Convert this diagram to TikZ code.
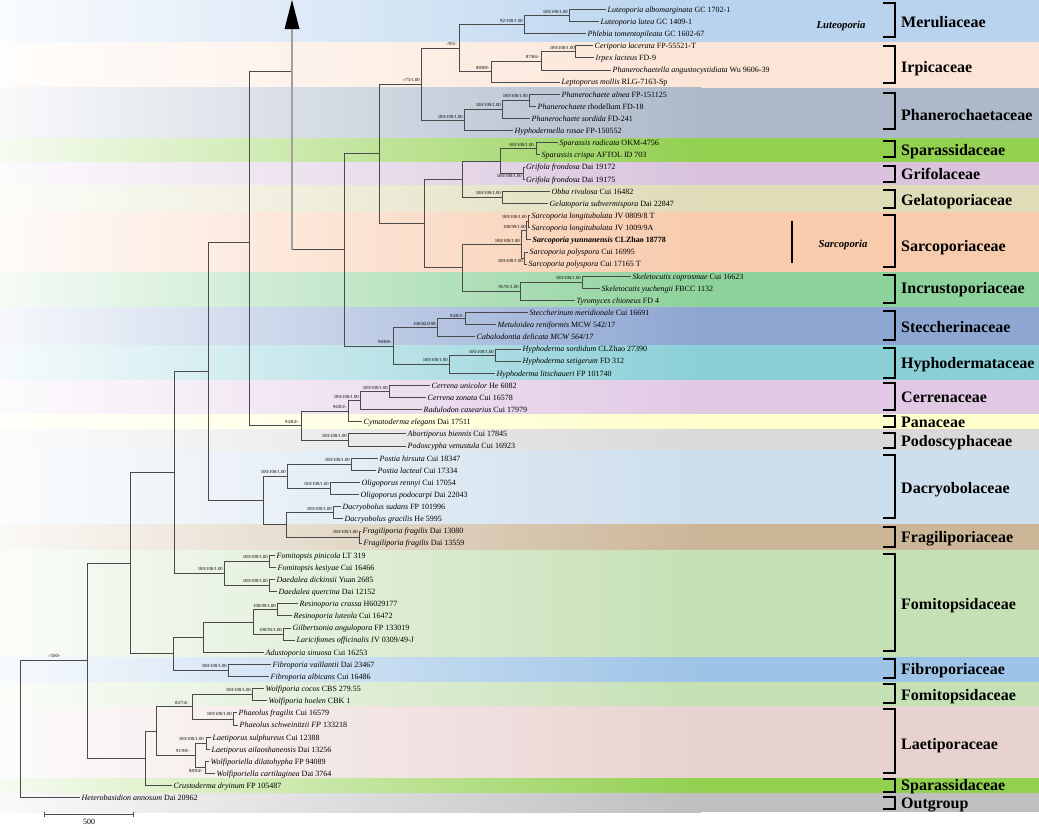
\documentclass[tikz,border=0pt]{standalone}
\usepackage{fontspec}
\setmainfont{Liberation Serif}
\definecolor{cMer}{HTML}{B9D3EE}
\definecolor{cIrp}{HTML}{FBE5D6}
\definecolor{cPha}{HTML}{ADB9CA}
\definecolor{cSpa}{HTML}{92D050}
\definecolor{cGri}{HTML}{D9C3DD}
\definecolor{cGel}{HTML}{DFDCB8}
\definecolor{cSar}{HTML}{F8CBAD}
\definecolor{cInc}{HTML}{8ED29B}
\definecolor{cSte}{HTML}{8EA6D2}
\definecolor{cHyp}{HTML}{8BCFD7}
\definecolor{cCer}{HTML}{E1C9E5}
\definecolor{cPan}{HTML}{FFFFCC}
\definecolor{cPod}{HTML}{D9D9D9}
\definecolor{cDac}{HTML}{CDDEEC}
\definecolor{cFra}{HTML}{CBB698}
\definecolor{cFom}{HTML}{C5E0B4}
\definecolor{cFib}{HTML}{9DC3E6}
\definecolor{cLae}{HTML}{E8D2D0}
\definecolor{cOut}{HTML}{BFBFBF}
\definecolor{treec}{HTML}{4A4A4A}
\definecolor{arrc}{HTML}{A0A0A0}
\begin{document}
\begin{tikzpicture}[x=1pt,y=-1pt,
  br/.style={draw=treec, line width=0.75pt},
  taxon/.style={anchor=base west, inner sep=0pt, font=\fontsize{8}{9}\selectfont},
  sup/.style={anchor=east, inner sep=0pt, font=\fontsize{4.7}{5}\selectfont},
  fam/.style={anchor=base west, inner sep=0pt, font=\fontsize{16}{18}\selectfont\bfseries},
  brk/.style={draw=black, line width=2.2pt},
  genus/.style={inner sep=0pt, font=\fontsize{10.7}{12}\selectfont\bfseries\itshape},
  arrline/.style={draw=arrc, line width=1.5pt}]
\useasboundingbox (0,0) rectangle (1039,828);
% ---------- coloured bands ----------
\foreach \a/\b/\c in {0/42/cMer,42/87.5/cIrp,87.5/138/cPha,138/162/cSpa,162/185/cGri,185/212/cGel,212/272/cSar,272/307/cInc,307/345/cSte,345/380/cHyp,380/414/cCer,414/429/cPan,429/450/cPod,450/524/cDac,524/550/cFra,550/657/cFom,657/682/cFib,682/706/cFom,706/778/cLae,778/793/cSpa,793/812/cOut}
{\shade[left color=\c!8!white,right color=\c] (0,\a) rectangle (701,\b);
 \fill[\c] (700,\a) rectangle (1039,\b);}
% ---------- leaves ----------
\foreach \i/\x/\t in {
0/606/{\textit{Luteoporia albomarginata} GC 1702-1},
1/599/{\textit{Luteoporia lutea} GC 1409-1},
2/586/{\textit{Phlebia tomentopileata} GC 1602-67},
3/593/{\textit{Ceriporia lacerata} FP-55521-T},
4/594/{\textit{Irpex lacteus} FD-9},
5/611/{\textit{Phanerochaetella angustocystidiata} Wu 9606-39},
6/560/{\textit{Leptoporus mollis} RLG-7163-Sp},
7/560/{\textit{Phanerochaete alnea} FP-151125},
8/536/{\textit{Phanerochaete} rhodellum FD-18},
9/530/{\textit{Phanerochaete sordida} FD-241},
10/513/{\textit{Hyphodermella rosae} FP-150552},
11/558/{\textit{Sparassis radicata} OKM-4756},
12/540/{\textit{Sparassis crispa} AFTOL ID 703},
13/524.5/{\textit{Grifola frondosa} Dai 19172},
14/524.5/{\textit{Grifola frondosa} Dai 19175},
15/550/{\textit{Obba rivulosa} Cui 16482},
16/548/{\textit{Gelatoporia subvermispora} Dai 22847},
17/530/{\textit{Sarcoporia longitubulata} JV 0809/8 T},
18/530/{\textit{Sarcoporia longitubulata} JV 1009/9A},
19/531/{\textbf{\textit{Sarcoporia yunnanensis} CLZhao 18778}},
20/528/{\textit{Sarcoporia polyspora} Cui 16995},
21/527/{\textit{Sarcoporia polyspora} Cui 17165 T},
22/631/{\textit{Skeletocutis coprosmae} Cui 16623},
23/600/{\textit{Skeletocutis yuchengii} FBCC 1132},
24/575/{\textit{Tyromyces chioneus} FD 4},
25/528/{\textit{Steccherinum meridionale} Cui 16691},
26/496/{\textit{Metuloidea reniformis} MCW 542/17},
27/475/{\textit{Cabalodontia delicata MCW 564/17}},
28/521/{\textit{Hyphoderma sordidum} CLZhao 27390},
29/521/{\textit{Hyphoderma setigerum} FD 312},
30/495/{\textit{Hyphoderma litschaueri} FP 101740},
31/430/{\textit{Cerrena unicolor} He 6082},
32/426/{\textit{Cerrena zonata} Cui 16578},
33/422/{\textit{Radulodon casearius} Cui 17979},
34/362/{\textit{Cymatoderma elegans} Dai 17511},
35/406/{\textit{Abortiporus biennis} Cui 17845},
36/406/{\textit{Podoscypha venustula} Cui 16923},
37/378/{\textit{Postia hirsuta} Cui 18347},
38/376/{\textit{Postia lacteal} Cui 17334},
39/360/{\textit{Oligoporus rennyi} Cui 17054},
40/359/{\textit{Oligoporus podocarpi} Dai 22043},
41/341/{\textit{Dacryobolus sudans} FP 101996},
42/343/{\textit{Dacryobolus gracilis} He 5995},
43/361/{\textit{Fragiliporia fragilis} Dai 13080},
44/362/{\textit{Fragiliporia fragilis} Dai 13559},
45/275/{\textit{Fomitopsis pinicola} LT 319},
46/276/{\textit{Fomitopsis kesiyae} Cui 16466},
47/275/{\textit{Daedalea dickinsii} Yuan 2685},
48/277/{\textit{Daedalea quercina} Dai 12152},
49/298/{\textit{Resinoporia crassa} H6029177},
50/292/{\textit{Resinoporia luteola} Cui 16472},
51/291/{\textit{Gilbertsonia angulopora} FP 133019},
52/295/{\textit{Laricifomes officinalis} JV 0309/49-J},
53/264/{\textit{Adustoporia sinuosa} Cui 16253},
54/271/{\textit{Fibroporia vaillantii} Dai 23467},
55/269/{\textit{Fibroporia albicans} Cui 16486},
56/264/{\textit{Wolfiporia cocos} CBS 279.55},
57/267/{\textit{Wolfiporia hoelen} CBK 1},
58/237/{\textit{Phaeolus fragilis} Cui 16579},
59/238/{\textit{Phaeolus schweinitzii FP} 133218},
60/211/{\textit{Laetiporus sulphureus} Cui 12388},
61/210/{\textit{Laetiporus ailaoshanensis} Dai 13256},
62/209/{\textit{Wolfiporiella dilatohypha} FP 94089},
63/215/{\textit{Wolfiporiella cartilaginea} Dai 3764},
64/172/{\textit{Crustoderma dryinum} FP 105487},
65/80/{\textit{Heterobasidion annosum} Dai 20962}}
{\coordinate (l\i) at (\x,{9.3+12.13*\i});
 \node[taxon] (t\i) at (\x+1.5,{9.3+12.13*\i+2.9}) {\t};}
% ---------- internal nodes ----------
\coordinate (nA1) at (569,15.35);
\coordinate (nA2) at (524,24.5);
\coordinate (nB1) at (575,51.75);
\coordinate (nB2) at (541,60.9);
\coordinate (nB3) at (491,71.5);
\coordinate (nAB) at (459,48);
\coordinate (nC1) at (529,100.25);
\coordinate (nC2) at (502,109.4);
\coordinate (nC3) at (464,120);
\coordinate (nT) at (421,84);
\coordinate (nD1) at (536,148.8);
\coordinate (nD2) at (523,173);
\coordinate (nD3) at (500,160.9);
\coordinate (nE) at (502,197.4);
\coordinate (nDE) at (462,179.1);
\coordinate (nS1) at (528,221.5);
\coordinate (nS2) at (526,230.7);
\coordinate (nS3) at (524,258);
\coordinate (nS) at (521,244.3);
\coordinate (nI1) at (582,282.2);
\coordinate (nI) at (520,291.3);
\coordinate (nSI) at (462,267.8);
\coordinate (nDESI) at (424,223.5);
\coordinate (nU) at (379,153.7);
\coordinate (nSt1) at (465,318.6);
\coordinate (nSt) at (437,327.7);
\coordinate (nH1) at (495,355);
\coordinate (nH) at (449,364.1);
\coordinate (nSH) at (393,345.9);
\coordinate (nV) at (344,249.8);
\coordinate (k1) at (292,71);
\coordinate (k2) at (292,249.8);
\coordinate (ab) at (292,29);
\coordinate (nW) at (249,242);
\coordinate (nCe1) at (389,391.4);
\coordinate (nCe2) at (360,400.5);
\coordinate (nCe3) at (348,411.1);
\coordinate (nPo) at (348,440);
\coordinate (nCP) at (301,425.5);
\coordinate (nDa1) at (351,464.2);
\coordinate (nDa2) at (330,488.5);
\coordinate (nDa3) at (287,476.3);
\coordinate (nDa4) at (333,512.7);
\coordinate (nFr) at (359,537);
\coordinate (nDa5) at (286,524.8);
\coordinate (nDa) at (263,500.6);
\coordinate (nX) at (208,371.3);
\coordinate (nF1) at (269,561.2);
\coordinate (nF2) at (269,585.5);
\coordinate (nF) at (224,573.3);
\coordinate (nY) at (174,472.3);
\coordinate (nR1) at (277,609.7);
\coordinate (nR2) at (283,634);
\coordinate (nR) at (253,621.9);
\coordinate (nR3) at (203,637);
\coordinate (nFb) at (228,670.4);
\coordinate (nZ) at (173,653.7);
\coordinate (nQ) at (130,563);
\coordinate (nL1) at (252,694.6);
\coordinate (nL2) at (233,719);
\coordinate (nL3) at (192,706.8);
\coordinate (nL4) at (206,743.2);
\coordinate (nL5) at (205,767.5);
\coordinate (nL6) at (195,755.3);
\coordinate (nL) at (156,731);
\coordinate (nLC) at (145,758.3);
\coordinate (nP) at (87,660.7);
\coordinate (root) at (20,729.2);
% ---------- branches ----------
\foreach \p/\c in {nA1/l0,nA1/l1,nA2/nA1,nA2/l2,nB1/l3,nB1/l4,nB2/nB1,nB2/l5,nB3/nB2,nB3/l6,
 nAB/nA2,nAB/nB3,nC1/l7,nC1/l8,nC2/nC1,nC2/l9,nC3/nC2,nC3/l10,nT/nAB,nT/nC3,
 nD1/l11,nD1/l12,nD2/l13,nD2/l14,nD3/nD1,nD3/nD2,nE/l15,nE/l16,nDE/nD3,nDE/nE,
 nS1/l17,nS1/l18,nS2/nS1,nS2/l19,nS3/l20,nS3/l21,nS/nS2,nS/nS3,nI1/l22,nI1/l23,nI/nI1,nI/l24,
 nSI/nS,nSI/nI,nDESI/nDE,nDESI/nSI,nU/nT,nU/nDESI,
 nSt1/l25,nSt1/l26,nSt/nSt1,nSt/l27,nH1/l28,nH1/l29,nH/nH1,nH/l30,nSH/nSt,nSH/nH,
 nV/nU,nV/nSH,k1/nV,nW/k1,nW/nCP,
 nCe1/l31,nCe1/l32,nCe2/nCe1,nCe2/l33,nCe3/nCe2,nCe3/l34,nPo/l35,nPo/l36,nCP/nCe3,nCP/nPo,
 nDa1/l37,nDa1/l38,nDa2/l39,nDa2/l40,nDa3/nDa1,nDa3/nDa2,nDa4/l41,nDa4/l42,nFr/l43,nFr/l44,
 nDa5/nDa4,nDa5/nFr,nDa/nDa3,nDa/nDa5,nX/nW,nX/nDa,
 nF1/l45,nF1/l46,nF2/l47,nF2/l48,nF/nF1,nF/nF2,nY/nX,nY/nF,
 nR1/l49,nR1/l50,nR2/l51,nR2/l52,nR/nR1,nR/nR2,nR3/nR,nR3/l53,nFb/l54,nFb/l55,nZ/nR3,nZ/nFb,
 nQ/nY,nQ/nZ,
 nL1/l56,nL1/l57,nL2/l58,nL2/l59,nL3/nL1,nL3/nL2,nL4/l60,nL4/l61,nL5/l62,nL5/l63,
 nL6/nL4,nL6/nL5,nL/nL3,nL/nL6,nLC/nL,nLC/l64,nP/nQ,nP/nLC,root/nP,root/l65}
{\draw[br] (\p) |- (\c);}
% ---------- arrow ----------
\draw[arrline] (k2) -- (ab);
\fill[black] (284.5,29) -- (299.5,29) -- (292,0) -- cycle;
% ---------- support values ----------
\node[sup] (s0) at (61,656) {-/100/-};
\node[sup] (s1) at (568,12) {100/100/1.00};
\node[sup] (s2) at (523,21) {92/100/1.00};
\node[sup] (s3) at (575,48) {100/100/1.00};
\node[sup] (s4) at (540,57) {87/86/-};
\node[sup] (s5) at (490,68) {88/88/-};
\node[sup] (s6) at (457,44) {-/95/-};
\node[sup] (s7) at (420,80) {-/73/1.00};
\node[sup] (s8) at (528,96) {100/100/1.00};
\node[sup] (s9) at (501,105) {100/100/1.00};
\node[sup] (s10) at (463,117) {100/100/1.00};
\node[sup] (s11) at (534,145) {100/100/1.00};
\node[sup] (s12) at (522,176) {100/100/1.00};
\node[sup] (s13) at (501,193) {100/100/1.00};
\node[sup] (s14) at (527,217) {100/100/1.00};
\node[sup] (s15) at (526,227) {100/99/1.00};
\node[sup] (s16) at (520,241) {100/100/1.00};
\node[sup] (s17) at (523,261) {100/100/1.00};
\node[sup] (s18) at (581,278) {100/100/1.00};
\node[sup] (s19) at (519,287) {91/91/1.00};
\node[sup] (s20) at (464,316) {94/83/-};
\node[sup] (s21) at (436,324) {100/82/0.98};
\node[sup] (s22) at (494,352) {100/100/1.00};
\node[sup] (s23) at (448,360) {100/100/1.00};
\node[sup] (s24) at (392,342) {98/88/-};
\node[sup] (s25) at (388,388) {100/100/1.00};
\node[sup] (s26) at (359,397) {100/100/1.00};
\node[sup] (s27) at (347,407) {96/83/-};
\node[sup] (s28) at (347,436) {100/100/1.00};
\node[sup] (s29) at (299,422) {94/84/-};
\node[sup] (s30) at (350,460) {100/100/1.00};
\node[sup] (s31) at (329,484) {100/100/1.00};
\node[sup] (s32) at (286,472) {100/100/1.00};
\node[sup] (s33) at (332,509) {100/100/1.00};
\node[sup] (s34) at (358,532) {100/100/1.00};
\node[sup] (s35) at (268,557) {100/100/1.00};
\node[sup] (s36) at (268,581) {100/100/1.00};
\node[sup] (s37) at (223,569) {100/100/1.00};
\node[sup] (s38) at (276,606) {100/99/1.00};
\node[sup] (s39) at (282,630) {100/93/1.00};
\node[sup] (s40) at (227,666) {100/100/1.00};
\node[sup] (s41) at (251,690) {100/100/1.00};
\node[sup] (s42) at (232,714) {100/100/1.00};
\node[sup] (s43) at (189,703) {82/74/-};
\node[sup] (s44) at (204,739) {100/100/1.00};
\node[sup] (s45) at (190,751) {91/98/-};
\node[sup] (s46) at (203,771) {88/94/-};
% ---------- genus marks ----------
\node[genus] (gLut) at (841,26) {Luteoporia};
\coordinate (sbA) at (792,221);
\coordinate (sbB) at (792,263);
\draw[black, line width=1.5pt] (sbA) -- (sbB);
\node[genus] (gSar) at (843,245) {Sarcoporia};
% ---------- brackets ----------
\foreach \a/\b in {3/37,46/83,93/129,141/157,166/182,190/208,215/267,275/303,311/340,348/378,383/410,416/427,433/448,455/518,527/547,554/651,659/678,684/703,709/773,779/792,797/809}
{\draw[brk] (883,\a) -- (895,\a) -- (895,\b) -- (883,\b);}
% ---------- family names ----------
\foreach \k/\y/\n in {1/22/Meruliaceae,2/67/Irpicaceae,3/115/Phanerochaetaceae,4/150/Sparassidaceae,5/174/Grifolaceae,6/200/Gelatoporiaceae,7/246/Sarcoporiaceae,8/288/Incrustoporiaceae,9/327/Steccherinaceae,10/363/Hyphodermataceae,11/397/Cerrenaceae,12/422/Panaceae,13/441/Podoscyphaceae,14/488/Dacryobolaceae,15/537/Fragiliporiaceae,16/604/Fomitopsidaceae,17/669/Fibroporiaceae,18/695/Fomitopsidaceae,19/744/Laetiporaceae,20/785/Sparassidaceae,21/803/Outgroup}
{\node[fam] (f\k) at (901,\y+5.3) {\n};}
% ---------- scale bar ----------
\coordinate (sc1) at (44,814);
\coordinate (sc2) at (133,814);
\draw[treec, line width=0.8pt] (sc1) -- (sc2);
\draw[treec, line width=0.8pt] (44,811.5) -- (44,816.5);
\draw[treec, line width=0.8pt] (133,811.5) -- (133,816.5);
\node[inner sep=0pt, font=\fontsize{8}{9}\selectfont] (scl) at (89,821.5) {500};
\end{tikzpicture}
\end{document}
